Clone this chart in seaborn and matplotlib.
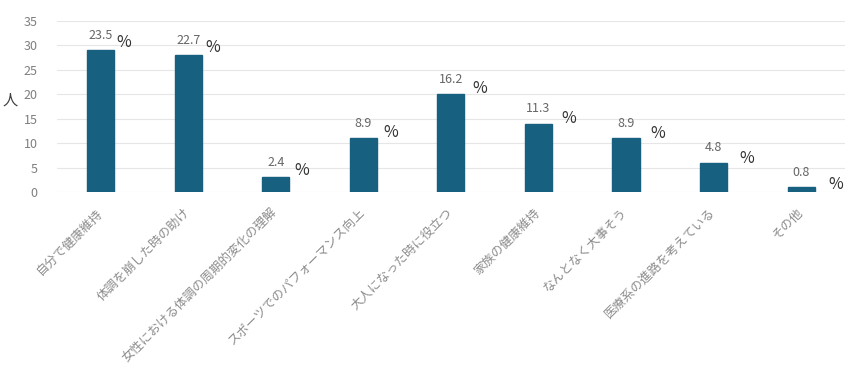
import matplotlib
matplotlib.use("Agg")
import matplotlib.pyplot as plt
import matplotlib.transforms as mtrans
import seaborn as sns
import pandas as pd

categories = ["自分で健康維持", "体調を崩した時の助け", "女性における体調の周期的変化の理解",
              "スポーツでのパフォーマンス向上", "大人になった時に役立つ", "家族の健康維持",
              "なんとなく大事そう", "医療系の進路を考えている", "その他"]
counts = [29, 28, 3, 11, 20, 14, 11, 6, 1]
percents = ["23.5", "22.7", "2.4", "8.9", "16.2", "11.3", "8.9", "4.8", "0.8"]
yticks = [0, 5, 10, 15, 20, 25, 30, 35]

sns.set_theme(style="whitegrid")
plt.rcParams['font.family'] = ['Noto Sans CJK JP', 'DejaVu Sans']

df = pd.DataFrame({"cat": categories, "n": counts})

fig = plt.figure(figsize=(8.5, 3.68), dpi=100)
ax = fig.add_axes([0.067, 0.478, 0.927, 0.465])
sns.barplot(data=df, x="cat", y="n", color="#17607F", width=0.31, saturation=1,
            ax=ax, edgecolor="#17607F")

ax.set_ylim(0, 35)
ax.set_yticks(yticks)
ax.set_xlim(-0.5, len(categories) - 0.5)
for s in ax.spines.values():
    s.set_visible(False)
ax.grid(axis="y", color="#e6e6e6", linewidth=0.8)
ax.grid(axis="x", visible=False)
ax.set_axisbelow(True)
ax.tick_params(axis="y", labelsize=9, colors="#7f7f7f", length=0, pad=14)
ax.tick_params(axis="x", labelsize=9, colors="#8c8c8c", length=0, pad=10)
shift = mtrans.ScaledTranslation(-5 / 100, 0, fig.dpi_scale_trans)
for lab in ax.get_xticklabels():
    lab.set_rotation(45)
    lab.set_ha("right")
    lab.set_rotation_mode("anchor")
    lab.set_transform(lab.get_transform() + shift)
ax.set_xlabel("")
ax.set_ylabel("人", rotation=0, fontsize=11, color="#404040", va="center", ha="center")
ax.yaxis.set_label_coords(-0.06, 0.54)

for i, (c, p) in enumerate(zip(counts, percents)):
    ax.annotate(p, (i, c), xytext=(0, 6), textcoords="offset points",
                ha="center", va="bottom", fontsize=9, color="#666666")
    dx = (16 + 1.4 * i) * 0.72
    dy = (8 - 0.6 * i) * 0.72
    ax.annotate("%", (i, c), xytext=(dx, dy), textcoords="offset points",
                ha="left", va="center", fontsize=11.5, color="#333333")

fig.savefig("out.png", dpi=100)
